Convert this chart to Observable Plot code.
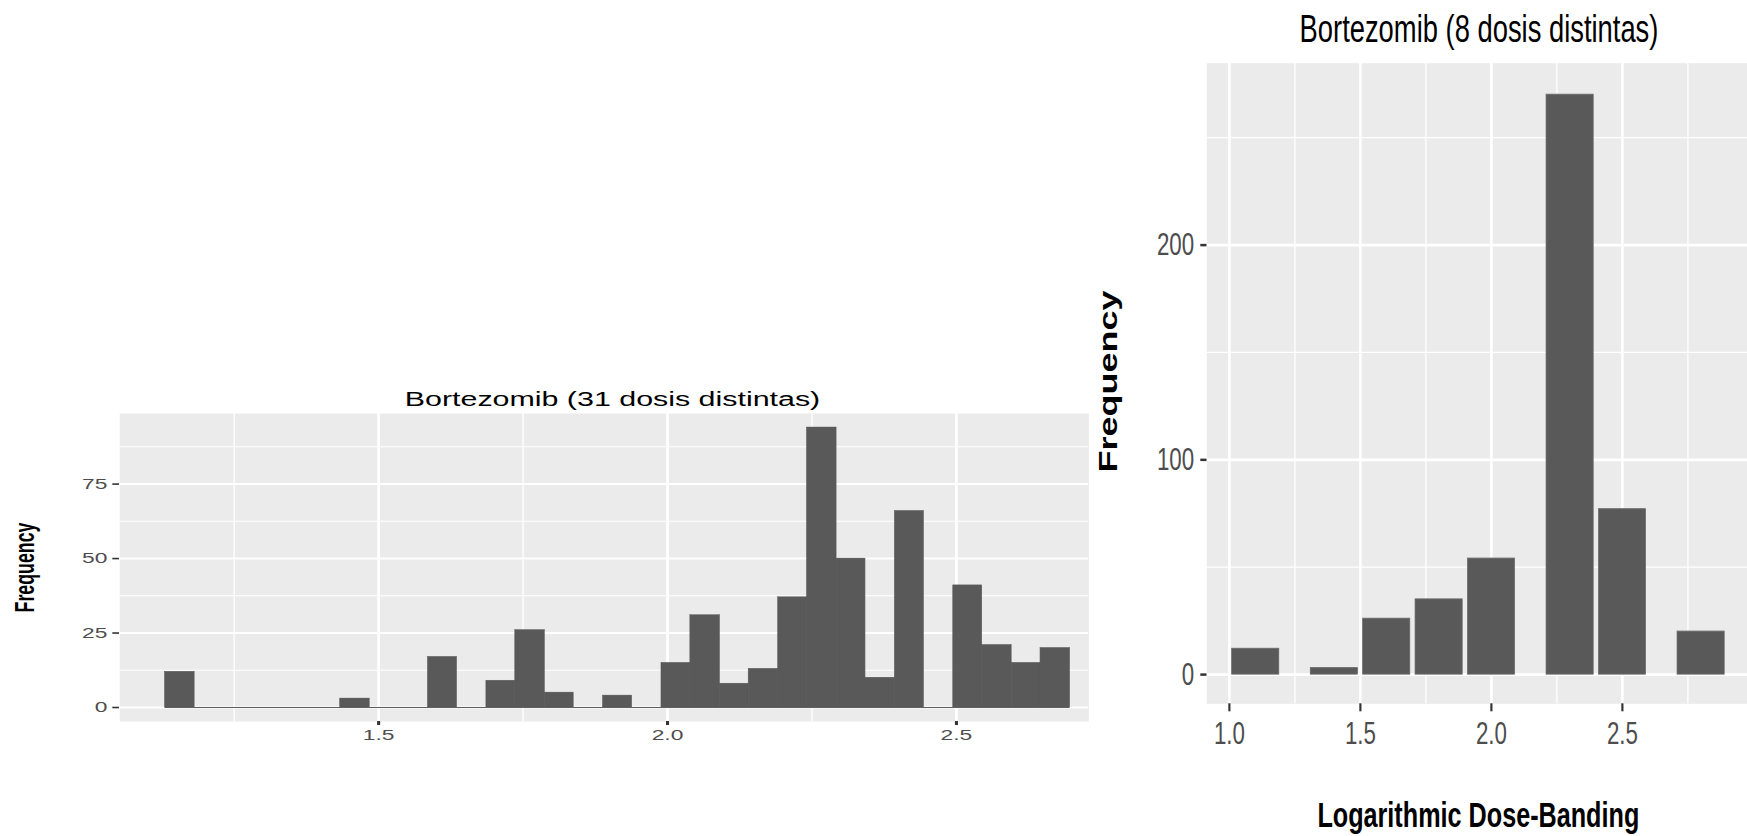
<!DOCTYPE html>
<html>
<head>
<meta charset="utf-8">
<script src="https://cdn.jsdelivr.net/npm/d3@7"></script>
<script src="https://cdn.jsdelivr.net/npm/@observablehq/plot@0.6"></script>
<style>
  body { margin: 0; background: #fff; }
  #wrap { position: relative; width: 1747px; height: 836px; overflow: hidden; background: #fff; }
</style>
</head>
<body>
<div id="wrap"></div>
<script>
// ---------- Left chart: histogram, 31 distinct doses ----------
const leftTitle = "Bortezomib (31 dosis distintas)";
const leftYLabel = "Frequency";
const leftEdges = [1.131, 1.182, 1.232, 1.283, 1.333, 1.384, 1.434, 1.485, 1.535, 1.586, 1.636,
                   1.687, 1.737, 1.788, 1.838, 1.889, 1.939, 1.990, 2.040, 2.091, 2.141, 2.192,
                   2.242, 2.293, 2.343, 2.394, 2.444, 2.495, 2.545, 2.596, 2.646, 2.697];
const leftCounts = [12, 0, 0, 0, 0, 0, 3, 0, 0, 17, 0, 9, 26, 5, 0, 4, 0,
                    15, 31, 8, 13, 37, 94, 50, 10, 66, 0, 41, 21, 15, 20];
const leftXTicks = [1.5, 2.0, 2.5];
const leftXMinor = [1.25, 1.75, 2.25];
const leftYTicks = [0, 25, 50, 75];
const leftYMinor = [12.5, 37.5, 62.5, 87.5];

// ---------- Right chart: 8 dose bands ----------
const rightTitle = "Bortezomib (8 dosis distintas)";
const rightYLabel = "Frequency";
const rightXLabel = "Logarithmic Dose-Banding";
const rightDoses = [1.1, 1.4, 1.6, 1.8, 2.0, 2.3, 2.5, 2.8];
const rightCounts = [12, 3, 26, 35, 54, 270, 77, 20];
const rightXTicks = [1.0, 1.5, 2.0, 2.5];
const rightXMinor = [1.25, 1.75, 2.25, 2.75];
const rightYTicks = [0, 100, 200];
const rightYMinor = [50, 150, 250];

const leftBins = leftCounts.map((c, i) => ({x1: leftEdges[i], x2: leftEdges[i + 1], count: c}));
const rightData = rightDoses.map((d, i) => ({dose: d, count: rightCounts[i]}));

const FONT = "'Liberation Sans', Arial, Helvetica, sans-serif";
const white = {stroke: "white", strokeOpacity: 1};

function place(svg, kx, W, H, left, top) {
  svg.setAttribute("viewBox", `0 0 ${W / kx} ${H}`);
  svg.setAttribute("preserveAspectRatio", "none");
  svg.setAttribute("width", W);
  svg.setAttribute("height", H);
  Object.assign(svg.style, {
    position: "absolute", left: left + "px", top: top + "px",
    width: W + "px", height: H + "px", maxWidth: "none", overflow: "visible", background: "transparent"
  });
  document.getElementById("wrap").appendChild(svg);
}

// Left chart (its picture is stretched horizontally, like the original)
const kxL = 1.52, LW = 1100, LH = 390, LTop = 370;
const left = Plot.plot({
  width: LW / kxL, height: LH,
  marginLeft: 119 / kxL, marginRight: (LW - 1088) / kxL,
  marginTop: 413 - LTop, marginBottom: LTop + LH - 721,
  x: {domain: [1.052, 2.729]},
  y: {domain: [-4.7, 98.7]},
  style: {fontFamily: FONT, fontSize: "15px", background: "transparent", overflow: "visible"},
  marks: [
    Plot.frame({fill: "#ebebeb", stroke: "none"}),
    Plot.gridX(leftXMinor, {...white, strokeWidth: 0.9}),
    Plot.gridY(leftYMinor, {...white, strokeWidth: 1}),
    Plot.gridX(leftXTicks, {...white, strokeWidth: 1.8}),
    Plot.gridY(leftYTicks, {...white, strokeWidth: 2}),
    Plot.rectY(leftBins, {x1: "x1", x2: "x2", y: "count", fill: "#595959", stroke: "#595959", strokeWidth: 0.4}),
    Plot.ruleY([0], {x1: () => leftEdges[0], x2: () => leftEdges[leftEdges.length - 1], stroke: "#5f5f5f", strokeWidth: 1}),
    Plot.axisX(leftXTicks, {tickSize: 4, tickPadding: 4.3, tickFormat: d3.format(".1f"), fontSize: 15,
      fill: "#4d4d4d", stroke: "#333333", strokeWidth: 2, label: null}),
    Plot.axisY(leftYTicks, {tickSize: 4.4, tickPadding: 3.7, fontSize: 15,
      fill: "#4d4d4d", stroke: "#333333", strokeWidth: 1.6, label: null}),
    Plot.text([leftTitle], {text: d => d, frameAnchor: "top", lineAnchor: "bottom", dx: 5.4, dy: -8,
      fontSize: 20, fill: "black"}),
    Plot.text([leftYLabel], {text: d => d, frameAnchor: "left", rotate: -90, textAnchor: "middle",
      lineAnchor: "middle", dx: -62, fontSize: 17.8, fontWeight: "bold", fill: "black"})
  ]
});
place(left, kxL, LW, LH, 0, LTop);

// Right chart (its picture is squeezed horizontally, like the original)
const kxR = 0.72, RW = 662, RH = 836, RLeft = 1085;
const right = Plot.plot({
  width: RW / kxR, height: RH,
  marginLeft: (1206.5 - RLeft) / kxR, marginRight: 0,
  marginTop: 62.7, marginBottom: RH - 703.3,
  x: {domain: [0.914, 2.977]},
  y: {domain: [-13.6, 284.7]},
  style: {fontFamily: FONT, fontSize: "31px", background: "transparent", overflow: "visible"},
  marks: [
    Plot.frame({fill: "#ebebeb", stroke: "none"}),
    Plot.gridX(rightXMinor, {...white, strokeWidth: 1.8}),
    Plot.gridY(rightYMinor, {...white, strokeWidth: 1.3}),
    Plot.gridX(rightXTicks, {...white, strokeWidth: 3.6}),
    Plot.gridY(rightYTicks, {...white, strokeWidth: 2.6}),
    Plot.rectY(rightData, {x1: d => d.dose - 0.09, x2: d => d.dose + 0.09, y: "count",
      fill: "#595959", stroke: "#6a6a6a", strokeWidth: 1}),
    Plot.axisX(rightXTicks, {tickSize: 8, tickPadding: 10, tickFormat: d3.format(".1f"), fontSize: 31,
      fill: "#4d4d4d", stroke: "#333333", strokeWidth: 3, label: null}),
    Plot.axisY(rightYTicks, {tickSize: 8.6, tickPadding: 9, fontSize: 31,
      fill: "#4d4d4d", stroke: "#333333", strokeWidth: 2.5, label: null}),
    Plot.text([rightTitle], {text: d => d, frameAnchor: "top", lineAnchor: "bottom", dx: 2.6, dy: -21,
      fontSize: 38, fill: "black"}),
    Plot.text([rightYLabel], {text: d => d, frameAnchor: "left", rotate: -90, textAnchor: "middle",
      lineAnchor: "middle", dx: -135.8, dy: -2, fontSize: 36, fontWeight: "bold", fill: "black"}),
    Plot.text([rightXLabel], {text: d => d, frameAnchor: "bottom", lineAnchor: "bottom", dx: 1.7, dy: 122.7,
      fontSize: 35, fontWeight: "bold", fill: "black"})
  ]
});
place(right, kxR, RW, RH, RLeft, 0);
</script>
</body>
</html>
